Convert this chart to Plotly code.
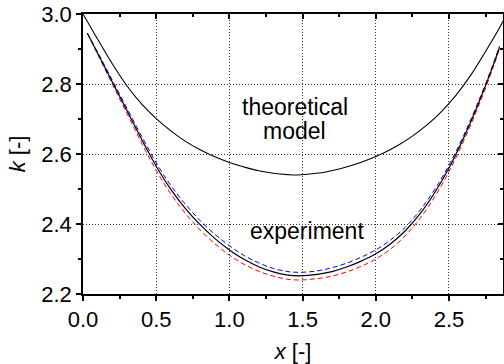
import plotly.graph_objects as go

# ---- data ----
x_theory = [0.0, 0.1, 0.2, 0.3, 0.4, 0.5, 0.6, 0.7, 0.8, 0.9, 1.0, 1.1, 1.2, 1.3, 1.4, 1.45,
            1.55, 1.65, 1.75, 1.85, 1.95, 2.05, 2.15, 2.25, 2.35, 2.45, 2.55, 2.65, 2.75, 2.85, 2.869]
k_theory = [3.0, 2.928, 2.858, 2.795, 2.743, 2.701, 2.666, 2.636, 2.612, 2.592, 2.576, 2.563, 2.552, 2.545, 2.541, 2.540,
            2.543, 2.548, 2.557, 2.569, 2.584, 2.602, 2.624, 2.651, 2.683, 2.722, 2.769, 2.826, 2.893, 2.964, 2.980]

x_exp = [0.03, 0.1, 0.2, 0.3, 0.4, 0.5, 0.6, 0.7, 0.8, 0.9, 1.0, 1.1, 1.2, 1.3, 1.4, 1.48,
         1.6, 1.7, 1.8, 1.9, 2.0, 2.1, 2.2, 2.3, 2.4, 2.5, 2.6, 2.7, 2.8, 2.845]
k_exp_black = [2.945, 2.888, 2.806, 2.724, 2.642, 2.565, 2.499, 2.444, 2.398, 2.359, 2.326, 2.299, 2.278, 2.263, 2.254, 2.252,
               2.256, 2.264, 2.277, 2.294, 2.315, 2.343, 2.380, 2.428, 2.488, 2.560, 2.646, 2.743, 2.851, 2.905]
k_exp_blue = [2.945, 2.891, 2.811, 2.731, 2.651, 2.575, 2.510, 2.456, 2.410, 2.371, 2.338, 2.310, 2.289, 2.273, 2.264, 2.262,
              2.266, 2.275, 2.288, 2.305, 2.326, 2.354, 2.390, 2.438, 2.497, 2.568, 2.653, 2.749, 2.855, 2.908]
k_exp_red = [2.945, 2.885, 2.800, 2.716, 2.632, 2.553, 2.486, 2.430, 2.383, 2.344, 2.311, 2.285, 2.265, 2.251, 2.242, 2.240,
             2.244, 2.251, 2.263, 2.279, 2.300, 2.328, 2.366, 2.415, 2.476, 2.550, 2.637, 2.735, 2.845, 2.901]

x_range = [0.0, 2.869]
y_range = [2.2, 3.0]
x_title = "<i>x</i> [-]"
y_title = "<i>k</i> [-]"
label_theory = ["theoretical", "model"]
label_exp = "experiment"

FONT = "Liberation Sans, Arial, Helvetica, sans-serif"

fig = go.Figure()

spl = dict(shape="spline", smoothing=1.0)
fig.add_trace(go.Scatter(x=x_exp, y=k_exp_blue, mode="lines", line=dict(color="#0000ff", width=1, dash="5px,3px", **spl), showlegend=False, hoverinfo="skip"))
fig.add_trace(go.Scatter(x=x_exp, y=k_exp_red, mode="lines", line=dict(color="#ff0000", width=1, dash="5px,3px", **spl), showlegend=False, hoverinfo="skip"))
fig.add_trace(go.Scatter(x=x_exp, y=k_exp_black, mode="lines", line=dict(color="black", width=1.2, **spl), showlegend=False, hoverinfo="skip"))
fig.add_trace(go.Scatter(x=x_theory, y=k_theory, mode="lines", line=dict(color="black", width=1.1, **spl), showlegend=False, hoverinfo="skip"))
# invisible trace so that the mirrored (top/right) axes get drawn
fig.add_trace(go.Scatter(x=x_theory, y=k_theory, xaxis="x2", yaxis="y2", mode="lines", line=dict(width=0), opacity=0, showlegend=False, hoverinfo="skip"))

common = dict(
    showline=True, linecolor="black", linewidth=1.5,
    tickcolor="black", tickwidth=1.5, zeroline=False, automargin=False,
    tickfont=dict(family=FONT, size=22, color="black"),
)
grid = dict(showgrid=True, gridcolor="#333333", griddash="1px,2px", gridwidth=1)

fig.update_layout(
    width=504, height=364,
    margin=dict(l=83, r=1, t=14, b=70),
    paper_bgcolor="white", plot_bgcolor="white",
    font=dict(family=FONT, size=22, color="black"),
    xaxis=dict(
        range=x_range, dtick=0.5, tick0=0, tickformat=".1f",
        ticks="outside", ticklen=5,
        minor=dict(dtick=0.25, tick0=0, ticks="outside", ticklen=3, tickcolor="black", tickwidth=1.5, showgrid=False),
        title=dict(text=x_title, font=dict(family=FONT, size=22), standoff=16),
        **grid, **common,
    ),
    yaxis=dict(
        range=y_range, dtick=0.2, tick0=2.2, tickformat=".1f",
        ticks="outside", ticklen=5,
        minor=dict(dtick=0.1, tick0=2.2, ticks="outside", ticklen=3, tickcolor="black", tickwidth=1.5, showgrid=False),
        title=dict(text=y_title, font=dict(family=FONT, size=22), standoff=10),
        **grid, **common,
    ),
    xaxis2=dict(
        range=x_range, dtick=0.5, tick0=0, overlaying="x", side="top", anchor="y",
        ticks="inside", ticklen=5, showticklabels=False, showgrid=False,
        minor=dict(dtick=0.25, tick0=0, ticks="inside", ticklen=3, tickcolor="black", tickwidth=1.5, showgrid=False),
        **common,
    ),
    yaxis2=dict(
        range=y_range, dtick=0.2, tick0=2.2, overlaying="y", side="right", anchor="x",
        ticks="inside", ticklen=5, showticklabels=False, showgrid=False,
        minor=dict(dtick=0.1, tick0=2.2, ticks="inside", ticklen=3, tickcolor="black", tickwidth=1.5, showgrid=False),
        **common,
    ),
)

fig.add_annotation(x=1.448, y=2.735, xref="x", yref="y", text=label_theory[0], showarrow=False,
                   font=dict(family=FONT, size=23, color="black"), xanchor="center", yanchor="middle")
fig.add_annotation(x=1.446, y=2.666, xref="x", yref="y", text=label_theory[1], showarrow=False,
                   font=dict(family=FONT, size=23, color="black"), xanchor="center", yanchor="middle")
fig.add_annotation(x=1.533, y=2.379, xref="x", yref="y", text=label_exp, showarrow=False,
                   font=dict(family=FONT, size=23, color="black"), xanchor="center", yanchor="middle")

fig.write_html("out.html", config={"displayModeBar": False},
               post_script="document.body.style.margin='0px';document.body.style.padding='0px';")
